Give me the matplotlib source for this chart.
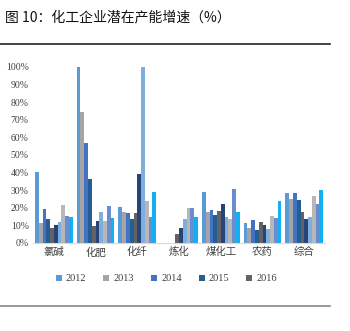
import numpy as np
import matplotlib
matplotlib.use("Agg")
import matplotlib.pyplot as plt
from matplotlib.lines import Line2D

plt.rcParams['font.family'] = ['Noto Sans CJK SC', 'DejaVu Sans']

categories = ['氯碱', '化肥', '化纤', '炼化', '煤化工', '农药', '综合']
years = ['2012', '2013', '2014', '2015', '2016', '2017', '2018', '2019', '2020', '2021']

# growth rate (%) for each series, one value per category
s2012 = [40.2, 100, 20.2, 0, 28.9, 11.5, 28.5]
s2013 = [11.3, 74.2, 17.5, 0, 17.5, 8.7, 24.7]
s2014 = [19.4, 56.6, 17.2, 0, 18.9, 13.2, 28.1]
s2015 = [13.6, 36.2, 13.4, 0, 15.6, 7.4, 24.3]
s2016 = [8.5, 9.8, 17.2, 5.1, 17.9, 12.1, 17.5]
s2017 = [10.0, 12.6, 39.0, 8.5, 22.3, 10.4, 13.4]
s2018 = [11.9, 17.5, 100, 13.6, 14.5, 7.7, 14.9]
s2019 = [21.3, 12.6, 24.0, 19.6, 13.4, 15.3, 26.4]
s2020 = [15.1, 20.9, 14.9, 19.6, 30.7, 14.1, 21.9]
s2021 = [14.5, 14.1, 29.2, 14.5, 17.7, 24.0, 30.0]
series = [s2012, s2013, s2014, s2015, s2016, s2017, s2018, s2019, s2020, s2021]

colors = ['#5B9BD5', '#A5A5A5', '#4472C4', '#255E91', '#636363',
          '#264478', '#7CAFDD', '#B7B7B7', '#698ED0', '#12B0F0']

fig = plt.figure(figsize=(3.5, 3.31), dpi=100)
ax = fig.add_axes([0.094, 0.266, 0.835, 0.532])

x = np.arange(len(categories))
w = 0.09
for i, (vals, c) in enumerate(zip(series, colors)):
    ax.bar(x + (i - 4.5) * w, np.array(vals) / 100, width=w, color=c,
           label=years[i], linewidth=0)

ax.set_xlim(-0.5, 6.5)
ax.set_ylim(0, 1.0)
ax.set_yticks(np.arange(0, 1.01, 0.1))
ax.set_yticklabels([f'{int(round(v * 100))}%' for v in np.arange(0, 1.01, 0.1)],
                   family='Liberation Serif', fontsize=7, color='#404040')
ax.set_xticks(x)
ax.set_xticklabels(categories, fontsize=7.5, color='#404040')
ax.tick_params(length=0, pad=3)
for s in ['top', 'right', 'left']:
    ax.spines[s].set_visible(False)
ax.spines['bottom'].set_color('#d9d9d9')

handles = [Line2D([], [], marker='s', linestyle='none', markersize=5,
                  markerfacecolor=colors[i], markeredgewidth=0) for i in range(5)]
fig.legend(handles, years[:5], loc='center', bbox_to_anchor=(0.474, 0.158),
           ncol=5, frameon=False, prop={'family': 'Liberation Serif', 'size': 7.5},
           handlelength=0.8, handletextpad=0.3, columnspacing=1.5,
           labelcolor='#404040')

fig.text(0.015, 0.948, '图 10：化工企业潜在产能增速（%）', fontsize=10, va='center',
         color='#111111')
fig.add_artist(Line2D([0, 0.943], [0.867, 0.867], color='#222222', linewidth=1.2))
fig.add_artist(Line2D([0, 0.943], [0.077, 0.077], color='#888888', linewidth=1.2))

fig.savefig('out.png', dpi=100)
